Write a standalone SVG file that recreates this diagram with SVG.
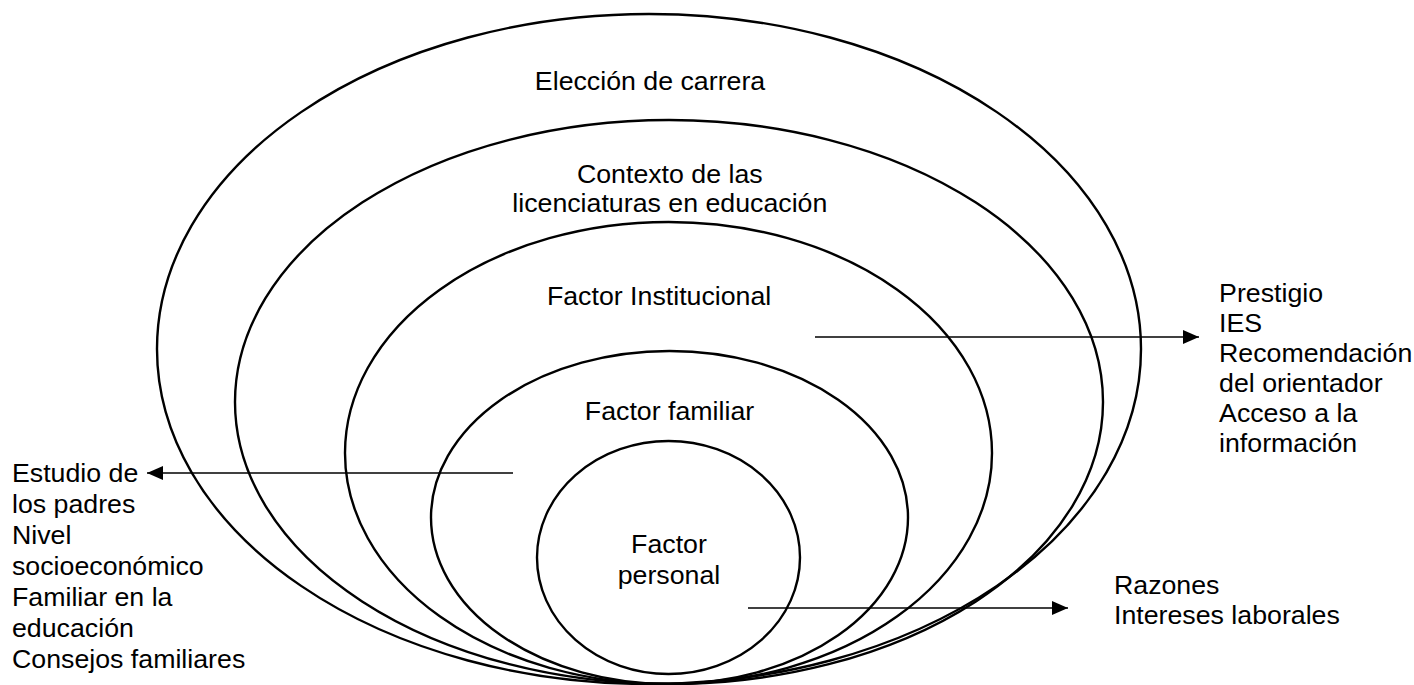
<svg xmlns="http://www.w3.org/2000/svg" width="1414" height="685" viewBox="0 0 1414 685">
<style>
.ring{fill:none;stroke:#000;stroke-width:2.4}
.con{fill:none;stroke:#000;stroke-width:1.4}
text{font-family:"Liberation Sans",Arial,sans-serif;font-size:25px;fill:#000}
.c{text-anchor:middle}
</style>
<defs>
<marker id="ah" markerWidth="16" markerHeight="14" refX="16" refY="7" orient="auto" markerUnits="userSpaceOnUse">
<path d="M0,0 L16,7 L0,14 z" fill="#000"/>
</marker>
</defs>
<rect width="1414" height="685" fill="#fff"/>
<g id="eleccion">
<ellipse class="ring" cx="649" cy="349" rx="492" ry="335"/>
<text class="c" transform="scale(1.07 1)" x="607.5" y="90">Elección de carrera</text>
</g>
<g id="contexto">
<ellipse class="ring" cx="669" cy="402" rx="434" ry="282"/>
<text class="c" transform="scale(1.07 1)" x="626" y="183">Contexto de las</text>
<text class="c" transform="scale(1.07 1)" x="626" y="212">licenciaturas en educación</text>
</g>
<g id="institucional">
<ellipse class="ring" cx="668.5" cy="453" rx="323.5" ry="231"/>
<text class="c" transform="scale(1.07 1)" x="616" y="305">Factor Institucional</text>
</g>
<g id="familiar">
<ellipse class="ring" cx="669.5" cy="517.5" rx="238.5" ry="166.5"/>
<text class="c" transform="scale(1.07 1)" x="625.7" y="420">Factor familiar</text>
</g>
<g id="personal">
<ellipse class="ring" cx="668.5" cy="557.5" rx="131.5" ry="116.5"/>
<text class="c" transform="scale(1.07 1)" x="625.2" y="553">Factor</text>
<text class="c" transform="scale(1.07 1)" x="625.2" y="584">personal</text>
</g>
<g id="lista-familiar">
<text transform="scale(1.07 1)" x="11.2" y="482">Estudio de</text>
<text transform="scale(1.07 1)" x="11.2" y="513">los padres</text>
<text transform="scale(1.07 1)" x="11.2" y="544">Nivel</text>
<text transform="scale(1.07 1)" x="11.2" y="575">socioeconómico</text>
<text transform="scale(1.07 1)" x="11.2" y="606">Familiar en la</text>
<text transform="scale(1.07 1)" x="11.2" y="637">educación</text>
<text transform="scale(1.07 1)" x="11.2" y="668">Consejos familiares</text>
</g>
<g id="lista-institucional">
<text transform="scale(1.07 1)" x="1139.3" y="302">Prestigio</text>
<text transform="scale(1.07 1)" x="1139.3" y="332">IES</text>
<text transform="scale(1.07 1)" x="1139.3" y="362">Recomendación</text>
<text transform="scale(1.07 1)" x="1139.3" y="392">del orientador</text>
<text transform="scale(1.07 1)" x="1139.3" y="422">Acceso a la</text>
<text transform="scale(1.07 1)" x="1139.3" y="452">información</text>
</g>
<g id="lista-personal">
<text transform="scale(1.07 1)" x="1041.1" y="594">Razones</text>
<text transform="scale(1.07 1)" x="1041.1" y="624">Intereses laborales</text>
</g>
<g id="connectors">
<path class="con" d="M815,337 L1199,337" marker-end="url(#ah)"/>
<path class="con" d="M513,473 L147,473" marker-end="url(#ah)"/>
<path class="con" d="M748,608 L1068,608" marker-end="url(#ah)"/>
</g>
</svg>
